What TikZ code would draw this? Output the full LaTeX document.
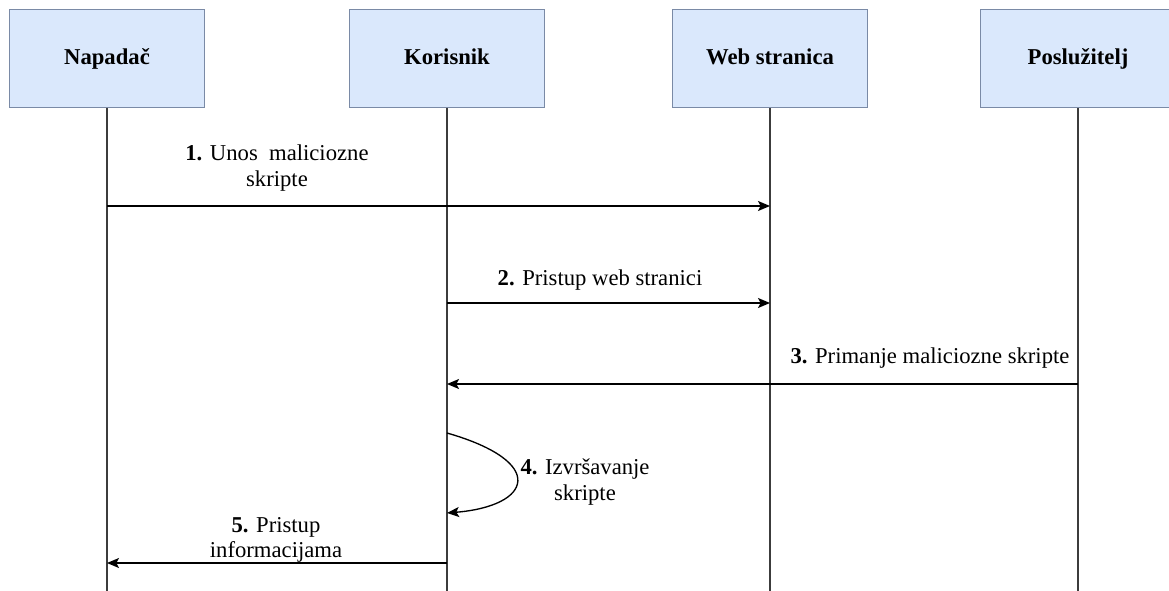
\documentclass[tikz,border=0pt]{standalone}
\usepackage{fontspec}
\setmainfont{Liberation Serif}
\usetikzlibrary{arrows.meta}
\definecolor{boxfill}{RGB}{218,232,252}
\definecolor{boxline}{RGB}{122,138,166}
\definecolor{lifeline}{RGB}{60,60,60}
\tikzset{
  actor/.style={draw=boxline, fill=boxfill, line width=0.9pt, minimum width=146pt, minimum height=73pt, text height=12pt, text depth=3pt, font=\fontsize{17}{20}\selectfont\bfseries},
  msg/.style={draw=black, line width=1pt, -{Stealth[length=9pt,width=7.5pt,inset=2pt]}},
  lbl/.style={align=center, font=\fontsize{17}{19}\selectfont}
}

\begin{document}
\begin{tikzpicture}[x=0.75pt,y=-0.75pt]
    \useasboundingbox (0,0) rectangle (1169,591);
    \clip (0,0) rectangle (1169,591);
    %lifelines
    \coordinate (nEnd) at (107,595);
    \coordinate (kEnd) at (447,595);
    \coordinate (wEnd) at (770,595);
    \coordinate (pEnd) at (1078,595);
    \draw[lifeline, line width=1pt] (107,107) -- (nEnd);
    \draw[lifeline, line width=1pt] (447,107) -- (kEnd);
    \draw[lifeline, line width=1pt] (770,107) -- (wEnd);
    \draw[lifeline, line width=1pt] (1078,107) -- (pEnd);
    %boxes
    \node[actor] (napadac) at (107,58.5){Napada\v{c}};
    \node[actor] (korisnik) at (447,58.5){Korisnik};
    \node[actor] (web) at (770,58.5){Web stranica};
    \node[actor] (posluzitelj) at (1078,58.5){Poslu\v{z}itelj};
    %message points
    \coordinate (n1) at (107,206);
    \coordinate (w1) at (770,206);
    \coordinate (k2) at (447,303);
    \coordinate (w2) at (770,303);
    \coordinate (p3) at (1078,384);
    \coordinate (k3) at (447,384);
    \coordinate (k4a) at (447,433);
    \coordinate (k4b) at (447,513);
    \coordinate (k5) at (447,563);
    \coordinate (n5) at (107,563);
    %messages
    \draw[msg] (n1) -- (w1);
    \draw[msg] (k2) -- (w2);
    \draw[msg] (p3) -- (k3);
    \draw[msg] (k4a) .. controls (548,462) and (532,506) .. (k4b);
    \draw[msg] (k5) -- (n5);
    %labels
    \node[lbl] (l1) at (277,168){\textbf{1.} Unos\ \ maliciozne\\skripte};
    \node[lbl] (l2) at (600,280){\textbf{2.} Pristup web stranici};
    \node[lbl] (l3) at (930,358){\textbf{3.} Primanje maliciozne skripte};
    \node[lbl] (l4) at (585,482){\textbf{4.} Izvr\v{s}avanje\\skripte};
    \node[lbl] (l5) at (276,540){\textbf{5.} Pristup\\informacijama};
\end{tikzpicture}
\end{document}
